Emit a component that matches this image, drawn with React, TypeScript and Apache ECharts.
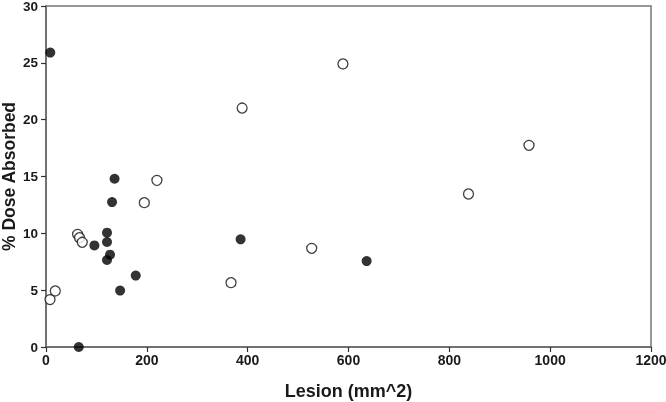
import React, { useEffect, useRef } from "react";
import * as echarts from "echarts";

const filledX = [8.5, 65, 96, 121, 121, 127, 121, 131, 136, 147, 178, 386, 636];
const filledY = [25.9, 0, 8.94, 10.06, 9.24, 8.12, 7.65, 12.75, 14.8, 4.96, 6.28, 9.47, 7.56];
const openX = [8, 18.4, 62.6, 66.5, 71.9, 195, 220, 367, 389, 589, 527, 838, 958];
const openY = [4.17, 4.93, 9.91, 9.62, 9.21, 12.7, 14.66, 5.66, 21.02, 24.9, 8.68, 13.46, 17.74];

const xName = "Lesion (mm^2)";
const yName = "% Dose Absorbed";

export default function App() {
  const ref = useRef<HTMLDivElement>(null);
  useEffect(() => {
    if (!ref.current) return;
    const chart = echarts.init(ref.current, undefined, { renderer: "svg" });
    const font = "Liberation Sans, Arial, sans-serif";
    chart.setOption({
      animation: false,
      grid: {
        left: 46,
        right: 15,
        top: 6,
        bottom: 55,
        outerBoundsMode: "none",
        containLabel: false,
        show: true,
        borderColor: "#777",
        borderWidth: 1.5,
        backgroundColor: "transparent",
      },
      xAxis: {
        type: "value",
        min: 0,
        max: 1200,
        interval: 200,
        name: xName,
        nameLocation: "middle",
        nameGap: 35,
        nameMoveOverlap: false,
        nameTextStyle: { fontFamily: font, fontWeight: "bold", fontSize: 18, color: "#1a1a1a" },
        axisLine: { show: true, onZero: false, lineStyle: { color: "#666", width: 1.5 } },
        axisTick: { show: true, inside: false, length: 5, lineStyle: { color: "#333", width: 1.2 } },
        axisLabel: {
          margin: 6,
          fontFamily: font,
          fontWeight: "bold",
          fontSize: 14,
          color: "#1a1a1a",
          formatter: (v: number) => String(v),
        },
        splitLine: { show: false },
      },
      yAxis: {
        type: "value",
        min: 0,
        max: 30,
        interval: 5,
        name: yName,
        nameLocation: "middle",
        nameGap: 29,
        nameRotate: 90,
        nameMoveOverlap: false,
        nameTextStyle: {
          fontFamily: font,
          fontWeight: "bold",
          fontSize: 17.5,
          lineHeight: 17,
          color: "#1a1a1a",
        },
        axisLine: { show: true, onZero: false, lineStyle: { color: "#666", width: 1.5 } },
        axisTick: { show: true, inside: false, length: 5, lineStyle: { color: "#333", width: 1.2 } },
        axisLabel: {
          margin: 8,
          fontFamily: font,
          fontWeight: "bold",
          fontSize: 13.5,
          lineHeight: 12,
          color: "#1a1a1a",
          formatter: (v: number) => String(v),
        },
        splitLine: { show: false },
      },
      series: [
        {
          type: "scatter",
          name: "open",
          data: openX.map((x, i) => [x, openY[i]]),
          symbol: "circle",
          symbolSize: 10,
          itemStyle: { color: "#fff", borderColor: "#111", borderWidth: 1.3 },
          z: 3,
        },
        {
          type: "scatter",
          name: "filled",
          data: filledX.map((x, i) => [x, filledY[i]]),
          symbol: "circle",
          symbolSize: 10,
          itemStyle: { color: "#000" },
          z: 4,
        },
      ],
    });
    return () => chart.dispose();
  }, []);
  return (
    <div
      ref={ref}
      style={{ position: "fixed", left: 0, top: 0, width: 666, height: 402 }}
    />
  );
}
